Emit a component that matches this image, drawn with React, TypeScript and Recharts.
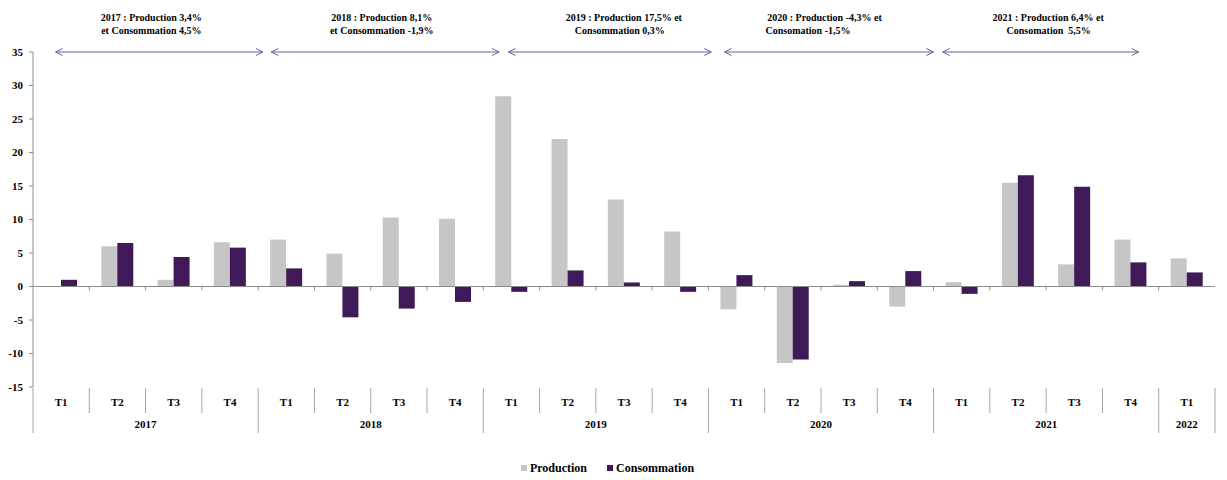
import React from 'react';
import { BarChart, Bar, XAxis, YAxis, ReferenceLine, Legend } from 'recharts';

const quarterLabels = ['T1','T2','T3','T4','T1','T2','T3','T4','T1','T2','T3','T4','T1','T2','T3','T4','T1','T2','T3','T4','T1'];
const yearLabels = ['2017','2017','2017','2017','2018','2018','2018','2018','2019','2019','2019','2019','2020','2020','2020','2020','2021','2021','2021','2021','2022'];
const production = [0, 6.0, 1.0, 6.6, 7.0, 4.9, 10.3, 10.1, 28.4, 22.0, 13.0, 8.2, -3.4, -11.4, 0.25, -3.0, 0.65, 15.5, 3.3, 7.0, 4.2];
const consommation = [1.0, 6.5, 4.4, 5.8, 2.7, -4.6, -3.3, -2.3, -0.8, 2.4, 0.6, -0.8, 1.7, -10.9, 0.8, 2.3, -1.1, 16.6, 14.9, 3.6, 2.1];
const yTicks = [-15, -10, -5, 0, 5, 10, 15, 20, 25, 30, 35];
const seriesNames = ['Production', 'Consommation'];
const seriesColors = ['#c6c6c6', '#401a58'];

const annotationYears = ['2017', '2018', '2019', '2020', '2021'];
const annotationLine1 = ['2017 : Production 3,4%', '2018 : Production 8,1%', '2019 : Production 17,5% et', '2020 : Production -4,3% et', '2021 : Production 6,4% et'];
const annotationLine2 = ['et Consommation 4,5%', 'et Consommation -1,9%', 'Consommation 0,3%', 'Consomation -1,5%', 'Consomation  5,5%'];

// layout (pixel offsets, not data)
const arrowLayout = [
  { dx1: -5.5, dx2: 33, tdx: -8, anchor2: 'middle', t2dx: -8 },
  { dx1: -15, dx2: 44, tdx: -3.5, anchor2: 'middle', t2dx: -3.5 },
  { dx1: -3, dx2: 31, tdx: 14, anchor2: 'middle', t2dx: 10 },
  { dx1: -12, dx2: 28, tdx: -4.5, anchor2: 'start', t2dx: -63.5 },
  { dx1: -19, dx2: 8, tdx: 7.5, anchor2: 'middle', t2dx: 8 },
];

const data = quarterLabels.map((q, i) => ({
  cat: `${yearLabels[i]} ${q}`,
  Production: production[i],
  Consommation: consommation[i],
}));

const CHART_W = 1227;
const CHART_H = 480;
const MARGIN = { top: 52, right: 12, left: 0, bottom: 3 };
const YAXIS_W = 33;
const PLOT_W = CHART_W - MARGIN.left - MARGIN.right - YAXIS_W;
const CAT_W = PLOT_W / quarterLabels.length;
const FONT = '"Liberation Serif", "DejaVu Serif", serif';
const SEP = '#a6a6a6';

const XTick = (props: any) => {
  const { x, y, payload } = props;
  const i = props.index ?? payload.index;
  const q = quarterLabels[i];
  const yr = yearLabels[i];
  const isYearStart = i === 0 || yearLabels[i - 1] !== yr;
  const isLast = i === quarterLabels.length - 1;
  const left = x - CAT_W / 2;
  const right = x + CAT_W / 2;
  let yearText = null;
  if (isYearStart) {
    let n = 0;
    while (i + n < yearLabels.length && yearLabels[i + n] === yr) n++;
    const cx = x + ((n - 1) / 2) * CAT_W;
    yearText = (
      <text x={cx} y={y + 41} textAnchor="middle" fontFamily={FONT} fontWeight="bold" fontSize={11} fill="#000">
        {yr}
      </text>
    );
  }
  return (
    <g>
      <line x1={left} x2={left} y1={y + 1} y2={isYearStart ? y + 46 : y + 26} stroke={SEP} strokeWidth={1} />
      {isLast && <line x1={right} x2={right} y1={y + 1} y2={y + 46} stroke={SEP} strokeWidth={1} />}
      <text x={x} y={y + 19} textAnchor="middle" fontFamily={FONT} fontWeight="bold" fontSize={11} fill="#000">
        {q}
      </text>
      {yearText}
    </g>
  );
};

const ZeroLine = (props: any) => {
  const { x1, x2, y1 } = props;
  const n = quarterLabels.length;
  const step = (x2 - x1) / n;
  const ticks = [];
  for (let k = 1; k < n; k++) {
    const tx = x1 + k * step;
    ticks.push(<line key={k} x1={tx} x2={tx} y1={y1} y2={y1 + 4} stroke="#8c8c8c" strokeWidth={1} />);
  }
  return (
    <g>
      <line x1={x1} x2={x2} y1={y1} y2={y1} stroke="#8c8c8c" strokeWidth={1.2} />
      {ticks}
    </g>
  );
};

const makeArrow = (k: number) => (props: any) => {
  const { x1, x2, y1 } = props;
  const L = arrowLayout[k];
  const sx = x1 + L.dx1;
  const ex = x2 + L.dx2;
  const y = y1;
  const c = (sx + ex) / 2;
  const col = '#6a5e9c';
  return (
    <g>
      <line x1={sx} x2={ex} y1={y} y2={y} stroke={col} strokeWidth={1} />
      <path d={`M ${sx + 7} ${y - 3.5} L ${sx} ${y} L ${sx + 7} ${y + 3.5}`} fill="none" stroke={col} strokeWidth={1} />
      <path d={`M ${ex - 7} ${y - 3.5} L ${ex} ${y} L ${ex - 7} ${y + 3.5}`} fill="none" stroke={col} strokeWidth={1} />
      <text x={c + L.tdx} y={y - 31} textAnchor="middle" fontFamily={FONT} fontWeight="bold" fontSize={10} fill="#000">
        {annotationLine1[k]}
      </text>
      <text x={c + L.t2dx} y={y - 18} textAnchor={L.anchor2 as any} fontFamily={FONT} fontWeight="bold" fontSize={10} fill="#000" style={{ whiteSpace: 'pre' }}>
        {annotationLine2[k]}
      </text>
    </g>
  );
};

const LegendContent = () => (
  <div style={{ display: 'flex', justifyContent: 'center', alignItems: 'center', height: 18, fontFamily: FONT, fontWeight: 'bold', fontSize: 12, color: '#000' }}>
    {seriesNames.map((name, k) => (
      <span key={name} style={{ display: 'inline-flex', alignItems: 'center', marginRight: k === 0 ? 20 : 0 }}>
        <span style={{ display: 'inline-block', width: 6, height: 6, background: seriesColors[k], marginRight: 3 }} />
        {name}
      </span>
    ))}
  </div>
);

export default function App() {
  return (
    <div style={{ position: 'absolute', left: 0, top: 0, width: CHART_W, height: CHART_H, background: '#fff' }}>
      <BarChart width={CHART_W} height={CHART_H} data={data} margin={MARGIN} barGap={0}>
        <YAxis
          width={YAXIS_W}
          domain={[-15, 35]}
          ticks={yTicks}
          interval={0}
          axisLine={{ stroke: '#8c8c8c' }}
          tickLine={{ stroke: '#8c8c8c' }}
          tickSize={4}
          tickMargin={6}
          tick={{ fill: '#000', fontFamily: FONT, fontWeight: 'bold', fontSize: 11 }}
        />
        <XAxis
          dataKey="cat"
          interval={0}
          axisLine={false}
          tickLine={false}
          tickSize={0}
          tickMargin={0}
          height={72}
          tick={<XTick />}
        />
        <ReferenceLine y={0} shape={<ZeroLine />} />
        <Bar dataKey="Production" fill={seriesColors[0]} barSize={16} isAnimationActive={false} />
        <Bar dataKey="Consommation" fill={seriesColors[1]} barSize={16} isAnimationActive={false} />
        {annotationYears.map((yr, k) => (
          <ReferenceLine
            key={yr}
            segment={[{ x: `${yr} T1`, y: 35 }, { x: `${yr} T4`, y: 35 }]}
            shape={makeArrow(k)}
            ifOverflow="visible"
          />
        ))}
        <Legend verticalAlign="bottom" align="center" content={<LegendContent />} />
      </BarChart>
    </div>
  );
}
